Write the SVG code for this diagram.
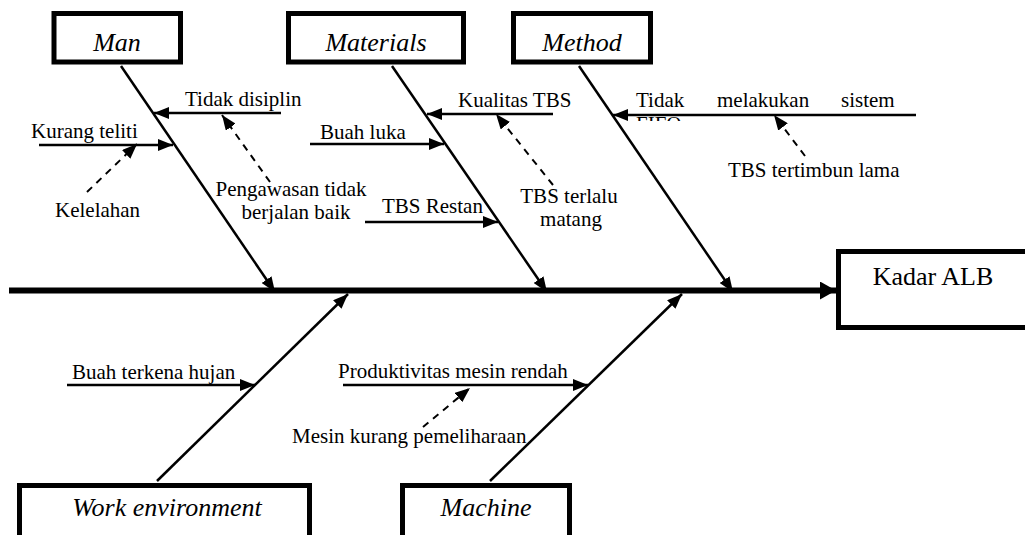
<svg xmlns="http://www.w3.org/2000/svg" width="1025" height="535" viewBox="0 0 1025 535">
<style>
.box{fill:#fff;stroke:#000;stroke-width:5}
.cat{font-style:italic;font-size:26px;fill:#000;text-anchor:middle}
.lbl{font-size:21px;fill:#000}
.bone{stroke:#000;stroke-width:2.5;fill:none;marker-end:url(#ah)}
.sub{stroke:#000;stroke-width:2.5;fill:none;marker-end:url(#ah)}
.dash{stroke:#000;stroke-width:2;fill:none;stroke-dasharray:7,6;marker-end:url(#ah)}
.spine{stroke:#000;stroke-width:6;fill:none;marker-end:url(#big)}
</style>
<defs>
<marker id="ah" markerUnits="userSpaceOnUse" markerWidth="15" markerHeight="12" refX="15" refY="6" orient="auto"><path d="M0,0 L15,6 L0,12 z" fill="#000"/></marker>
<marker id="big" markerUnits="userSpaceOnUse" markerWidth="16" markerHeight="18" refX="16" refY="9" orient="auto"><path d="M0,0 L16,9 L0,18 z" fill="#000"/></marker>
<clipPath id="fifoClip"><rect x="630" y="116" width="80" height="5"/></clipPath>
</defs>
<rect width="1025" height="535" fill="#fff"/>
<g id="connectors">
<line class="spine" x1="9" y1="290.5" x2="836" y2="290.5"/>
<line class="bone" x1="121" y1="66" x2="275" y2="292"/>
<line class="bone" x1="392" y1="66" x2="547" y2="292"/>
<line class="bone" x1="579" y1="66" x2="733" y2="292"/>
<line class="bone" x1="157" y1="481" x2="348" y2="294"/>
<line class="bone" x1="490" y1="481" x2="682" y2="294"/>
<line class="sub" x1="281" y1="113" x2="154" y2="113"/>
<line class="sub" x1="39" y1="145" x2="173" y2="145"/>
<line class="sub" x1="553" y1="114" x2="427" y2="114"/>
<line class="sub" x1="310" y1="144" x2="444" y2="144"/>
<line class="sub" x1="365" y1="222" x2="498" y2="222"/>
<line class="sub" x1="916" y1="115" x2="613" y2="115"/>
<line class="sub" x1="67" y1="385" x2="255" y2="385"/>
<line class="sub" x1="343" y1="385" x2="588" y2="385"/>
<line class="dash" x1="87" y1="192" x2="137" y2="144"/>
<line class="dash" x1="270" y1="182" x2="222" y2="115"/>
<line class="dash" x1="553" y1="185" x2="496" y2="114"/>
<line class="dash" x1="805" y1="156" x2="774" y2="115"/>
<line class="dash" x1="423" y1="427" x2="470" y2="388"/>
</g>
<g font-family="Liberation Serif, Times New Roman, serif">
<g id="node-man"><rect class="box" x="54" y="13.5" width="126.5" height="48.5"/><text class="cat" x="117" y="51">Man</text></g>
<g id="node-materials"><rect class="box" x="288.5" y="13.5" width="175" height="48.5"/><text class="cat" x="376" y="51">Materials</text></g>
<g id="node-method"><rect class="box" x="513.5" y="13.5" width="137" height="48.5"/><text class="cat" x="582" y="51">Method</text></g>
<g id="node-kadar"><rect class="box" x="838.5" y="251.5" width="200" height="76"/><text class="lbl" x="933" y="285" font-size="26" text-anchor="middle" style="font-size:26px">Kadar ALB</text></g>
<g id="node-work"><rect class="box" x="19.5" y="485.5" width="290" height="70"/><text class="cat" x="167" y="516">Work environment</text></g>
<g id="node-machine"><rect class="box" x="402.5" y="485.5" width="167" height="70"/><text class="cat" x="486" y="516">Machine</text></g>
<g id="labels">
<text class="lbl" x="185" y="106">Tidak disiplin</text>
<text class="lbl" x="31" y="138">Kurang teliti</text>
<text class="lbl" x="55" y="217">Kelelahan</text>
<text class="lbl" x="291" y="196" text-anchor="middle">Pengawasan tidak</text>
<text class="lbl" x="296" y="219" text-anchor="middle">berjalan baik</text>
<text class="lbl" x="458" y="107">Kualitas TBS</text>
<text class="lbl" x="320" y="139">Buah luka</text>
<text class="lbl" x="382" y="213">TBS Restan</text>
<text class="lbl" x="569" y="203" text-anchor="middle">TBS terlalu</text>
<text class="lbl" x="571" y="226" text-anchor="middle">matang</text>
<text class="lbl" x="636" y="107">Tidak</text>
<text class="lbl" x="717" y="107">melakukan</text>
<text class="lbl" x="841" y="107">sistem</text>
<text class="lbl" x="636" y="131" clip-path="url(#fifoClip)">FIFO</text>
<text class="lbl" x="728" y="177">TBS tertimbun lama</text>
<text class="lbl" x="72" y="379">Buah terkena hujan</text>
<text class="lbl" x="338" y="378">Produktivitas mesin rendah</text>
<text class="lbl" x="292" y="443">Mesin kurang pemeliharaan</text>
</g>
</g>
</svg>
